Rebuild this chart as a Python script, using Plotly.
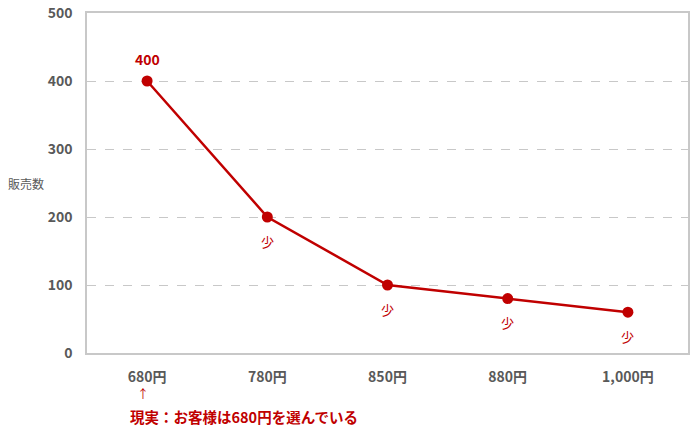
import plotly.graph_objects as go

# データ
prices = ["680円", "780円", "850円", "880円", "1,000円"]
sales = [400, 200, 100, 80, 60]
point_labels = ["<b>400</b>", "少", "少", "少", "少"]
label_shift = [22, -24, -24, -24, -24]

RED = "#C00000"
GRAY = "#595959"
FONT = "Noto Sans CJK JP"

fig = go.Figure()

fig.add_trace(go.Scatter(
    x=prices,
    y=sales,
    mode="lines+markers",
    line=dict(color=RED, width=2.5),
    marker=dict(size=11, color=RED),
    hoverinfo="skip",
))

# データラベル
for p, v, t, s in zip(prices, sales, point_labels, label_shift):
    fig.add_annotation(
        x=p, y=v, text=t, yshift=s, showarrow=False,
        font=dict(size=14 if s > 0 else 13, color=RED, family=FONT),
    )

# 縦軸タイトル
fig.add_annotation(
    text="販売数", x=-0.134, y=(353 - 183) / 340, xref="paper", yref="paper",
    showarrow=False, xanchor="left", yanchor="middle",
    font=dict(size=12, color=GRAY, family=FONT),
)

# 注記
fig.add_annotation(
    text="↑", x=0, y=-0.12, xref="x", yref="paper",
    xshift=-4, showarrow=False, yanchor="middle",
    font=dict(size=12, color=RED, family=FONT),
)
fig.add_annotation(
    text="<b>現実：お客様は680円を選んでいる</b>", x=0, y=-0.188, xref="x", yref="paper",
    xshift=-19, showarrow=False, xanchor="left", yanchor="middle",
    font=dict(size=14.5, color=RED, family=FONT),
)

fig.update_layout(
    width=700, height=440,
    margin=dict(l=87, r=12, t=13, b=87),
    plot_bgcolor="white", paper_bgcolor="white",
    showlegend=False,
    font=dict(family=FONT, color=GRAY),
    xaxis=dict(
        type="category", range=[-0.5, 4.5], automargin=False,
        showline=True, mirror=True, linecolor="#C8C8C8", linewidth=1.5,
        showgrid=False, ticks="", ticklabelstandoff=10,
        tickfont=dict(size=14, color=GRAY, family=FONT, weight="bold"),
    ),
    yaxis=dict(
        range=[0, 500], dtick=100, automargin=False,
        showline=True, mirror=True, linecolor="#C8C8C8", linewidth=1.5,
        showgrid=True, gridcolor="#C8C8C8", griddash="dash", gridwidth=1,
        zeroline=False, ticks="", ticklabelstandoff=10,
        tickfont=dict(size=14, color=GRAY, family=FONT, weight="bold"),
    ),
)

# ページ余白をなくす
fig.write_html(
    "out.html",
    config={"displayModeBar": False},
    post_script="document.body.style.margin='0';",
)
